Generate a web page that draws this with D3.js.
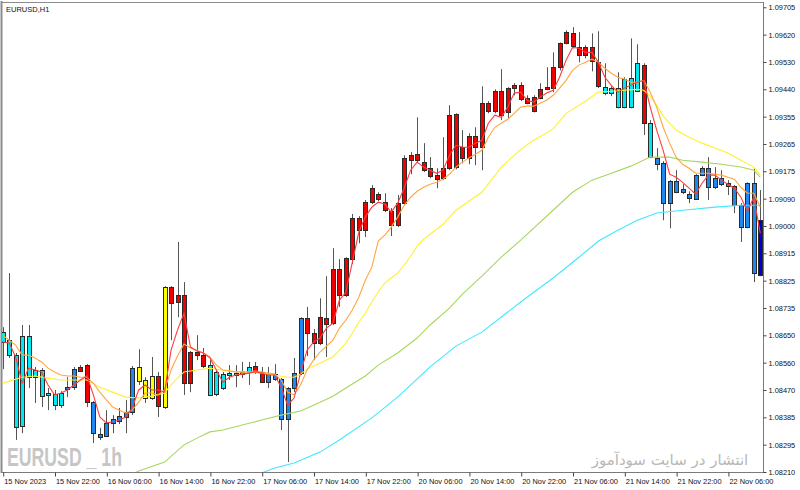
<!DOCTYPE html>
<html>
<head>
<meta charset="utf-8">
<script src="https://cdn.jsdelivr.net/npm/d3@7"></script>
<style>
  body { margin: 0; background: #fff; }
  svg text { font-family: "Liberation Sans", Arial, sans-serif; }
</style>
</head>
<body>
<div id="chart"></div>
<script>
// EURUSD H1, 15 Nov 14:00 -> 22 Nov 11:00 (118 bars)
const candleOpen = [
  1.08660,1.08634,1.08355,1.08358,1.08647,1.08538,1.08538,1.08464,1.08425,1.08425,
  1.08477,1.08483,1.08548,1.08554,1.08435,1.08323,1.08326,1.08368,1.08374,1.08387,
  1.08403,1.08548,1.08448,1.08519,1.08422,1.08419,1.08805,1.08779,1.08779,1.08496,
  1.08596,1.08586,1.08554,1.08461,1.08480,1.08522,1.08522,1.08525,1.08532,1.08551,
  1.08532,1.08499,1.08525,1.08509,1.08380,1.08480,1.08528,1.08705,1.08625,1.08625,
  1.08686,1.08689,1.08779,1.08779,1.08895,1.08988,1.08988,1.09123,1.09104,1.09078,
  1.09004,1.09004,1.09075,1.09213,1.09232,1.09207,1.09187,1.09152,1.09155,1.09187,
  1.09361,1.09220,1.09220,1.09255,1.09255,1.09371,1.09435,1.09358,1.09367,1.09454,
  1.09454,1.09412,1.09371,1.09412,1.09441,1.09445,1.09512,1.09625,1.09621,1.09576,
  1.09576,1.09576,1.09528,1.09448,1.09445,1.09384,1.09384,1.09384,1.09525,1.09519,
  1.09332,1.09220,1.09203,1.09075,1.09146,1.09120,1.09091,1.09088,1.09187,1.09187,
  1.09126,1.09155,1.09139,1.09130,1.08998,1.09139,1.09139,1.09020
];
const candleHigh = [
  1.08676,1.08850,1.08593,1.08683,1.08683,1.08548,1.08544,1.08480,1.08474,1.08470,
  1.08515,1.08548,1.08554,1.08557,1.08438,1.08352,1.08409,1.08393,1.08416,1.08442,
  1.08551,1.08605,1.08515,1.08580,1.08532,1.08808,1.08808,1.08950,1.08821,1.08599,
  1.08650,1.08609,1.08570,1.08538,1.08532,1.08554,1.08554,1.08564,1.08564,1.08564,
  1.08548,1.08548,1.08557,1.08512,1.08483,1.08577,1.08708,1.08741,1.08670,1.08769,
  1.08840,1.08930,1.08895,1.08901,1.09040,1.09033,1.09085,1.09133,1.09110,1.09107,
  1.09059,1.09101,1.09229,1.09239,1.09351,1.09268,1.09223,1.09187,1.09287,1.09390,
  1.09364,1.09310,1.09300,1.09319,1.09451,1.09403,1.09441,1.09506,1.09448,1.09461,
  1.09464,1.09422,1.09422,1.09461,1.09512,1.09560,1.09592,1.09631,1.09641,1.09625,
  1.09583,1.09621,1.09628,1.09525,1.09451,1.09496,1.09480,1.09605,1.09586,1.09525,
  1.09342,1.09252,1.09210,1.09149,1.09181,1.09136,1.09113,1.09168,1.09194,1.09223,
  1.09191,1.09181,1.09149,1.09133,1.09075,1.09142,1.09187,1.09117
];
const candleLow = [
  1.08541,1.08577,1.08313,1.08335,1.08480,1.08432,1.08419,1.08409,1.08409,1.08416,
  1.08451,1.08474,1.08532,1.08419,1.08303,1.08313,1.08323,1.08335,1.08364,1.08335,
  1.08393,1.08490,1.08432,1.08442,1.08387,1.08413,1.08634,1.08708,1.08458,1.08467,
  1.08570,1.08544,1.08454,1.08454,1.08474,1.08506,1.08483,1.08512,1.08490,1.08525,
  1.08496,1.08480,1.08503,1.08345,1.08242,1.08467,1.08522,1.08583,1.08570,1.08618,
  1.08580,1.08683,1.08741,1.08773,1.08879,1.08946,1.08966,1.09072,1.09081,1.09046,
  1.08969,1.08998,1.09068,1.09168,1.09207,1.09175,1.09155,1.09123,1.09149,1.09181,
  1.09184,1.09203,1.09200,1.09197,1.09181,1.09364,1.09364,1.09342,1.09348,1.09422,
  1.09403,1.09393,1.09367,1.09409,1.09438,1.09432,1.09502,1.09586,1.09573,1.09528,
  1.09541,1.09499,1.09445,1.09422,1.09419,1.09380,1.09380,1.09380,1.09432,1.09294,
  1.09220,1.09181,1.09020,1.08994,1.09107,1.09104,1.09075,1.09085,1.09162,1.09085,
  1.09120,1.09130,1.09101,1.09043,1.08950,1.08994,1.08821,1.08840
];
const candleClose = [
  1.08628,1.08586,1.08586,1.08647,1.08515,1.08515,1.08454,1.08458,1.08461,1.08464,
  1.08483,1.08541,1.08535,1.08435,1.08335,1.08332,1.08368,1.08380,1.08390,1.08403,
  1.08544,1.08503,1.08506,1.08448,1.08519,1.08805,1.08753,1.08757,1.08496,1.08596,
  1.08586,1.08551,1.08458,1.08532,1.08525,1.08528,1.08528,1.08532,1.08548,1.08532,
  1.08499,1.08525,1.08509,1.08380,1.08480,1.08528,1.08705,1.08657,1.08657,1.08708,
  1.08705,1.08863,1.08863,1.08898,1.09027,1.09027,1.09078,1.09078,1.09088,1.09052,
  1.09049,1.09075,1.09220,1.09229,1.09213,1.09181,1.09162,1.09165,1.09187,1.09358,
  1.09191,1.09255,1.09290,1.09290,1.09396,1.09396,1.09371,1.09435,1.09445,1.09445,
  1.09409,1.09396,1.09416,1.09441,1.09448,1.09512,1.09589,1.09589,1.09580,1.09551,
  1.09551,1.09531,1.09451,1.09429,1.09429,1.09445,1.09474,1.09477,1.09435,1.09332,
  1.09223,1.09200,1.09075,1.09146,1.09110,1.09110,1.09104,1.09165,1.09165,1.09126,
  1.09155,1.09136,1.09130,1.09068,1.09068,1.08998,1.08850,1.08843
];
// indicator state of each candle: c = aqua, b = blue, r = red, y = yellow, n = current bar
const candleState = (
  "cccccccccc" + "bb" + "rr" + "bbbbbbb" + "yyy" + "r" + "y" + "rrrrrr" +
  "ccccccc" + "rr" + "bbbbbb" +
  "rrrrrrrrrrrrrrrrrrrrrrrrrrrrrrrrrrrrrrrrrrrrrr" +
  "cccccc" + "r" + "c" + "bbbbbbbbbbbbbbbb" + "n"
).split("");

// moving averages
const maRed = [
  1.08628,1.08625,1.08580,1.08496,1.08544,1.08538,1.08532,1.08490,1.08458,1.08464,
  1.08474,1.08490,1.08506,1.08519,1.08458,1.08387,1.08368,1.08371,1.08377,1.08387,
  1.08416,1.08474,1.08490,1.08474,1.08474,1.08467,1.08602,1.08667,1.08721,1.08612,
  1.08599,1.08593,1.08577,1.08538,1.08499,1.08515,1.08522,1.08525,1.08528,1.08532,
  1.08528,1.08522,1.08522,1.08483,1.08425,1.08448,1.08528,1.08602,1.08628,1.08641,
  1.08673,1.08689,1.08763,1.08789,1.08885,1.08982,1.09030,1.09062,1.09078,1.09072,
  1.09046,1.09075,1.09123,1.09181,1.09207,1.09191,1.09181,1.09171,1.09181,1.09229,
  1.09261,1.09255,1.09255,1.09268,1.09277,1.09332,1.09358,1.09351,1.09384,1.09429,
  1.09432,1.09406,1.09400,1.09416,1.09429,1.09438,1.09480,1.09535,1.09576,1.09573,
  1.09560,1.09560,1.09528,1.09480,1.09454,1.09432,1.09445,1.09454,1.09464,1.09470,
  1.09384,1.09310,1.09245,1.09168,1.09158,1.09142,1.09123,1.09104,1.09139,1.09165,
  1.09165,1.09149,1.09136,1.09123,1.09094,1.09049,1.09094,1.08978
];
const maOrange = [
  1.08650,1.08634,1.08618,1.08586,1.08586,1.08577,1.08564,1.08544,1.08532,1.08522,
  1.08519,1.08519,1.08515,1.08515,1.08496,1.08467,1.08442,1.08419,1.08409,1.08400,
  1.08409,1.08435,1.08464,1.08464,1.08458,1.08474,1.08538,1.08583,1.08622,1.08609,
  1.08602,1.08593,1.08580,1.08554,1.08538,1.08535,1.08532,1.08532,1.08532,1.08535,
  1.08532,1.08528,1.08525,1.08506,1.08467,1.08458,1.08490,1.08538,1.08570,1.08596,
  1.08615,1.08634,1.08673,1.08699,1.08731,1.08773,1.08827,1.08869,1.08953,1.08972,
  1.08998,1.09030,1.09068,1.09094,1.09113,1.09126,1.09136,1.09142,1.09152,1.09168,
  1.09191,1.09207,1.09220,1.09232,1.09245,1.09287,1.09319,1.09332,1.09345,1.09364,
  1.09384,1.09387,1.09387,1.09396,1.09406,1.09422,1.09445,1.09470,1.09502,1.09519,
  1.09528,1.09538,1.09528,1.09509,1.09493,1.09480,1.09474,1.09464,1.09464,1.09470,
  1.09432,1.09384,1.09319,1.09268,1.09223,1.09200,1.09187,1.09171,1.09171,1.09171,
  1.09168,1.09165,1.09158,1.09152,1.09126,1.09107,1.09107,1.09062
];
const maYellowBar = [0,3,5,7,9,11,13,15,17,19,21,23,25,26,27,28,30,32,34,36,38,40,42,44,45,46,47,48,49,50,
  51,52,53,54,55,56,57,58,59,60,61,62,63,64,65,66,67,68,69,70,72,74,77,80,82,85,87,90,92,94,96,98,99,100,
  101,102,104,106,108,110,112,114,116,117];
const maYellow = [1.08496,1.08515,1.08519,1.08512,1.08506,1.08506,1.08506,1.08483,1.08467,1.08451,
  1.08448,1.08454,1.08464,1.08490,1.08512,1.08532,1.08538,1.08544,1.08538,1.08532,1.08532,1.08528,
  1.08522,1.08515,1.08515,1.08525,1.08541,1.08551,1.08560,1.08570,1.08580,1.08602,1.08625,1.08657,
  1.08692,1.08721,1.08757,1.08789,1.08818,1.08834,1.08850,1.08876,1.08904,1.08937,1.08959,1.08975,
  1.08991,1.09007,1.09030,1.09052,1.09081,1.09110,1.09191,1.09248,1.09277,1.09313,1.09364,1.09403,
  1.09432,1.09435,1.09438,1.09441,1.09438,1.09419,1.09390,1.09355,1.09310,1.09287,1.09268,1.09252,
  1.09236,1.09213,1.09191,1.09165];
const maGreenBar = [19,21,25,28,30,32,34,37,40,43,46,48,51,53,56,58,61,64,66,69,71,74,77,80,85,88,91,94,97,
  100,103,105,108,111,114,116,117];
const maGreen = [1.08191,1.08213,1.08242,1.08297,1.08319,1.08339,1.08345,1.08361,1.08377,1.08393,1.08406,
  1.08425,1.08454,1.08480,1.08519,1.08554,1.08593,1.08641,1.08683,1.08737,1.08782,1.08840,1.08901,
  1.08956,1.09052,1.09110,1.09149,1.09171,1.09194,1.09223,1.09223,1.09213,1.09207,1.09200,1.09191,
  1.09181,1.09158];
const maAquaBar = [39,40,42,45,49,52,57,61,66,70,74,80,85,89,92,95,98,101,105,110,114,117];
const maAqua = [1.08197,1.08207,1.08223,1.08239,1.08274,1.08313,1.08384,1.08451,1.08548,1.08615,1.08660,
  1.08757,1.08834,1.08901,1.08953,1.08988,1.09020,1.09043,1.09052,1.09062,1.09068,1.09068];

// axes
const priceMin = 1.08210, priceMax = 1.09705;
const priceTickLabels = ["1.08210","1.08295","1.08385","1.08470","1.08560","1.08650","1.08735","1.08825",
  "1.08915","1.09000","1.09090","1.09175","1.09265","1.09355","1.09440","1.09530","1.09620","1.09705"];
const timeTickBars = [0,8,16,24,32,40,48,56,64,72,80,88,96,104,112];
const timeTickLabels = ["15 Nov 2023","15 Nov 22:00","16 Nov 06:00","16 Nov 14:00","16 Nov 22:00",
  "17 Nov 06:00","17 Nov 14:00","17 Nov 22:00","20 Nov 06:00","20 Nov 14:00","20 Nov 22:00",
  "21 Nov 06:00","21 Nov 14:00","21 Nov 22:00","22 Nov 06:00"];

const width = 800, height = 490;
const plot = { left: 2, top: 2, right: 763, bottom: 472 };
const stateColor = { c: "#00e8f0", b: "#1e88f0", r: "#f00000", y: "#ffff00", n: "#0000d0" };

const svg = d3.select("#chart").append("svg")
  .attr("width", width).attr("height", height);

const x = d3.scaleLinear().domain([0, 117]).range([2.7, 760.3]);
const y = d3.scaleLinear().domain([priceMin, priceMax]).range([472, 7.3]);

svg.append("clipPath").attr("id", "plotClip")
  .append("rect")
  .attr("x", plot.left).attr("y", plot.top)
  .attr("width", plot.right - plot.left).attr("height", plot.bottom - plot.top);

// watermarks
svg.append("text")
  .attr("x", 7).attr("y", 466)
  .attr("textLength", 115).attr("lengthAdjust", "spacingAndGlyphs")
  .style("font-size", "25px").style("font-weight", "bold")
  .attr("fill", "#c6c6c6")
  .text("EURUSD _ 1h");

svg.append("text")
  .attr("x", 670).attr("y", 465)
  .attr("text-anchor", "middle")
  .style("font-family", "'DejaVu Sans', sans-serif")
  .style("font-size", "15px")
  .attr("fill", "#b8b8b8")
  .text("انتشار در سایت سودآموز");

// frame
svg.append("line").attr("x1", 1.5).attr("x2", 1.5).attr("y1", 1).attr("y2", 473)
  .attr("stroke", "#8c8c8c").attr("stroke-width", 2);
svg.append("line").attr("x1", 1).attr("x2", 763).attr("y1", 2.5).attr("y2", 2.5)
  .attr("stroke", "#8c8c8c");
svg.append("line").attr("x1", 763.5).attr("x2", 763.5).attr("y1", 2).attr("y2", 473)
  .attr("stroke", "#7a7a7a");
svg.append("line").attr("x1", 2).attr("x2", 764).attr("y1", 472.5).attr("y2", 472.5)
  .attr("stroke", "#7a7a7a");

// price axis
const priceStep = (priceMax - priceMin) / 17;
const yAxis = d3.axisRight(y)
  .tickValues(d3.range(18).map(k => priceMin + k * priceStep))
  .tickFormat((d, i) => priceTickLabels[i])
  .tickSize(3).tickPadding(2).tickSizeOuter(0);
const yAxisG = svg.append("g").attr("transform", "translate(763.5,0)").call(yAxis);
yAxisG.select(".domain").remove();
yAxisG.selectAll("line").attr("stroke", "#444");
yAxisG.selectAll("text")
  .style("font-size", "7.4px").attr("fill", "#111");

// time axis
const xAxis = d3.axisBottom(x)
  .tickValues(timeTickBars)
  .tickFormat((d, i) => timeTickLabels[i])
  .tickSize(4).tickSizeOuter(0);
const xAxisG = svg.append("g").attr("transform", "translate(0,472.5)").call(xAxis);
xAxisG.select(".domain").remove();
xAxisG.selectAll("line").attr("stroke", "#444")
  .attr("transform", "translate(0.5,0)");
xAxisG.selectAll("text")
  .attr("x", 1).attr("y", 11.5).attr("dy", 0)
  .style("text-anchor", "start")
  .style("font-size", "7.4px").attr("fill", "#111");

// title
svg.append("text")
  .attr("x", 6).attr("y", 12)
  .style("font-size", "7.5px").attr("fill", "#111")
  .text("EURUSD,H1");

// candles
const bars = d3.range(candleOpen.length);
const chart = svg.append("g").attr("clip-path", "url(#plotClip)");

const candle = chart.selectAll(".candle")
  .data(bars)
  .enter()
  .append("g")
  .attr("class", "candle");

candle.append("line")
  .attr("x1", i => Math.round(x(i)) + 0.5)
  .attr("x2", i => Math.round(x(i)) + 0.5)
  .attr("y1", i => y(candleHigh[i]))
  .attr("y2", i => y(candleLow[i]))
  .attr("stroke", "#555");

candle.append("rect")
  .attr("x", i => Math.round(x(i)) - 1.5)
  .attr("y", i => Math.round(y(Math.max(candleOpen[i], candleClose[i]))) + 0.5)
  .attr("width", 4)
  .attr("height", i => Math.max(1, Math.round(Math.abs(y(candleOpen[i]) - y(candleClose[i])))))
  .attr("fill", i => stateColor[candleState[i]])
  .attr("stroke", "#2a2a2a")
  .attr("stroke-width", 1);

// moving average lines
const maLine = d3.line()
  .x(d => x(d[0]))
  .y(d => y(d[1]));

const maSeries = [
  { bars: maAquaBar, values: maAqua, color: "#40e8ff" },
  { bars: maGreenBar, values: maGreen, color: "#a8d660" },
  { bars: maYellowBar, values: maYellow, color: "#fff030" },
  { bars: bars, values: maOrange, color: "#ffa640" },
  { bars: bars, values: maRed, color: "#ff3c3c" }
];

chart.selectAll(".ma")
  .data(maSeries)
  .enter()
  .append("path")
  .attr("class", "ma")
  .attr("fill", "none")
  .attr("stroke", d => d.color)
  .attr("stroke-width", 1.1)
  .attr("d", d => maLine(d.bars.map((b, k) => [b, d.values[k]])));
</script>
</body>
</html>
